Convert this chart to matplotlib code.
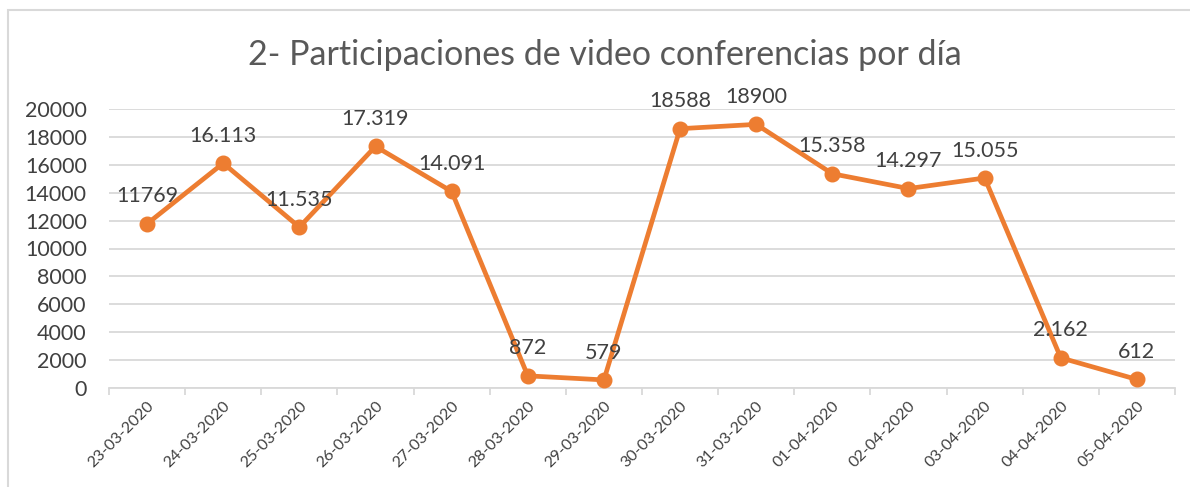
import matplotlib
matplotlib.use('Agg')
import matplotlib.pyplot as plt
from matplotlib.patches import Rectangle

ORANGE = "#ED7D31"
TEXT = "#404040"
GRID = "#D9D9D9"

plt.rcParams['font.family'] = ['Lato', 'DejaVu Sans']

# ── Datos ─────────────────────────────────────────────────────────────────────
fechas = ['23-03-2020', '24-03-2020', '25-03-2020', '26-03-2020', '27-03-2020',
          '28-03-2020', '29-03-2020', '30-03-2020', '31-03-2020', '01-04-2020',
          '02-04-2020', '03-04-2020', '04-04-2020', '05-04-2020']
participaciones = [11769, 16113, 11535, 17319, 14091, 872, 579,
                   18588, 18900, 15358, 14297, 15055, 2162, 612]
etiquetas = ['11769', '16.113', '11.535', '17.319', '14.091', '872', '579',
             '18588', '18900', '15.358', '14.297', '15.055', '2.162', '612']
yticks = list(range(0, 20001, 2000))

# ── Figura ────────────────────────────────────────────────────────────────────
fig = plt.figure(figsize=(11.9, 4.87), dpi=100)
ax = fig.add_axes([109 / 1190, 1 - 388 / 487, (1175 - 109) / 1190, (388 - 109) / 487])

# marco del gráfico (sólo se ven el borde izquierdo y el superior)
fig.patches.append(Rectangle((8 / 1190, -0.1), 1.2, 1 - 10 / 487 + 0.1,
                             transform=fig.transFigure, fill=False,
                             edgecolor=GRID, lw=1.5))

x = list(range(len(fechas)))
ax.plot(x, participaciones, color=ORANGE, lw=3.4, marker='o', ms=10.5,
        zorder=3, solid_capstyle='round')
for xi, v, lab in zip(x, participaciones, etiquetas):
    ax.annotate(lab, (xi, v), xytext=(0, 12.5), textcoords='offset points',
                ha='center', va='bottom', fontsize=15.5, color=TEXT, zorder=4)

ax.set_xlim(-0.5, len(fechas) - 0.5)
ax.set_ylim(0, 20000)
ax.set_yticks(yticks)
ax.set_yticklabels([str(t) for t in yticks], fontsize=15.5, color=TEXT)
ax.yaxis.grid(True, color=GRID, lw=1.3)
ax.set_axisbelow(True)
ax.tick_params(axis='y', length=0, pad=16)

ax.set_xticks(x)
ax.set_xticklabels(fechas, rotation=45, ha='right', rotation_mode='anchor',
                   fontsize=11.5, color=TEXT)
ax.set_xticks([i - 0.5 for i in range(len(fechas) + 1)], minor=True)
ax.tick_params(axis='x', which='major', length=0, pad=8)
ax.tick_params(axis='x', which='minor', length=5, color=GRID, width=1.3)

for s in ['top', 'right', 'left']:
    ax.spines[s].set_visible(False)
ax.spines['bottom'].set_color(GRID)
ax.spines['bottom'].set_linewidth(1.3)

fig.text(0.508, 1 - 55 / 487, '2- Participaciones de video conferencias por día',
         ha='center', va='center', fontsize=24.5, color='#595959')

fig.savefig('out.png', dpi=100, facecolor='white')
plt.close(fig)
